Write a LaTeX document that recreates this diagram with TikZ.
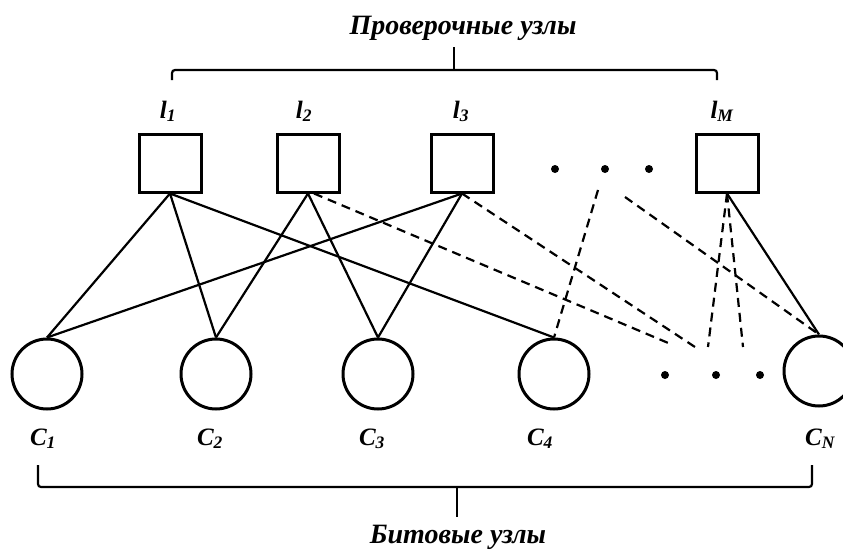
\documentclass[tikz,border=0pt]{standalone}
\usepackage{fontspec}
\setmainfont{Liberation Serif}

\begin{document}
\begin{tikzpicture}[x=1pt, y=-1pt]

  \useasboundingbox (0,0) rectangle (843,551);
  \tikzstyle{check}=[draw, line width=3pt, minimum width=62pt, minimum height=58pt, inner sep=0pt]
  \tikzstyle{bit}=[draw, circle, line width=3pt, minimum size=70pt, inner sep=0pt]
  \tikzstyle{dot}=[fill, circle, minimum size=8pt, inner sep=0pt]
  \tikzstyle{link}=[line width=2.2pt]
  \tikzstyle{maybe}=[line width=2.2pt, dash pattern=on 9pt off 6pt]
  \tikzstyle{lbl}=[font=\fontsize{25}{28}\selectfont\bfseries\itshape, anchor=base, inner sep=0pt]
  \tikzstyle{title}=[lbl, font=\fontsize{28}{32}\selectfont\bfseries\itshape]

  % check nodes
  \node[check] (l1) at (170,163) {};
  \node[check] (l2) at (308,163) {};
  \node[check] (l3) at (462,163) {};
  \node[check] (lM) at (727,163) {};

  % bit nodes
  \node[bit] (c1) at (47,374) {};
  \node[bit] (c2) at (216,374) {};
  \node[bit] (c3) at (378,374) {};
  \node[bit] (c4) at (554,374) {};
  \node[bit] (cN) at (819,371) {};

  % dots
  \foreach \x/\n in {555/1,605/2,649/3}
    \node[dot] (top\n) at (\x,169) {};
  \foreach \x/\n in {665/1,716/2,760/3}
    \node[dot] (bot\n) at (\x,375) {};

  % labels
  \node[lbl] (tl1) at (168,118) {l\textsubscript{1}};
  \node[lbl] (tl2) at (304,118) {l\textsubscript{2}};
  \node[lbl] (tl3) at (461,118) {l\textsubscript{3}};
  \node[lbl] (tlM) at (722,118) {l\textsubscript{M}};
  \node[lbl] (tc1) at (43,445) {C\textsubscript{1}};
  \node[lbl] (tc2) at (210,445) {C\textsubscript{2}};
  \node[lbl] (tc3) at (372,445) {C\textsubscript{3}};
  \node[lbl] (tc4) at (540,445) {C\textsubscript{4}};
  \node[lbl] (tcN) at (820,445) {C\textsubscript{N}};

  % solid edges
  \foreach \a/\b in {l1/c1, l1/c2, l1/c4, l2/c2, l2/c3, l3/c1, l3/c3}
    \draw[link] (\a.south) -- (\b.north);
  \draw[link] (lM.south) -- (cN.north);

  % dashed edges
  \coordinate (e2) at (673,345);
  \coordinate (e3) at (695,347);
  \coordinate (eM1) at (708,347);
  \coordinate (eM2) at (743,347);
  \coordinate (s4) at (598,190);
  \coordinate (sN) at (625,197);
  \draw[maybe] (l2.south) ++(6,0) -- (e2);
  \draw[maybe] (l3.south) -- (e3);
  \draw[maybe] (lM.south) -- (eM1);
  \draw[maybe] (lM.south) -- (eM2);
  \draw[maybe] (s4) -- (c4.north);
  \draw[maybe] (sN) -- (cN.north);

  % braces
  \coordinate (bt) at (454,70);
  \coordinate (bb) at (457,487);
  \draw[link, rounded corners=3pt] (172,80) |- (bt) -| (717,80);
  \draw[link] (bt) -- ++(0,-23);
  \draw[link, rounded corners=3pt] (38,465) |- (bb) -| (812,465);
  \draw[link] (bb) -- ++(0,30);

  \node[title] (top) at (463,35) {Проверочные узлы};
  \node[title] (bottom) at (458,543) {Битовые узлы};
\end{tikzpicture}
\end{document}
